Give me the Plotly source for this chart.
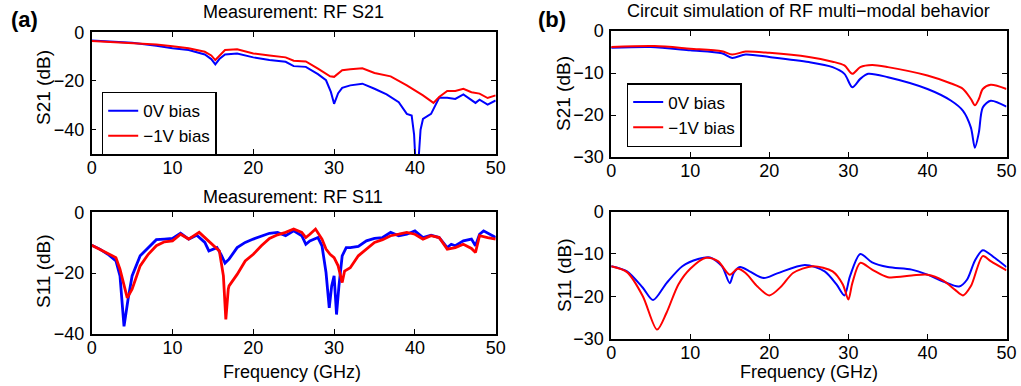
import plotly.graph_objects as go

W, H = 1021, 386

# ---------------- data ----------------
# (a) Measurement S21
meas_s21_f0 = [0, 2, 5, 8, 10, 12, 14, 14.8, 15.3, 15.8, 16.5, 18, 20, 22, 24, 25, 26.5, 28, 29, 29.6, 30, 30.5, 31, 32, 33.5, 35, 36.5, 38, 39, 39.6, 39.9, 40.1, 40.4, 40.7, 41, 42, 43, 44, 45, 46, 47, 47.5, 48, 49, 50]
meas_s21_0v = [-3.4, -3.8, -4.3, -5.5, -6.6, -7.3, -9.1, -11.0, -13.2, -11.0, -9.1, -8.7, -10.3, -11.4, -12.1, -13.9, -14.2, -17.2, -19.7, -24.5, -29.4, -25.0, -22.8, -21.8, -21.1, -23.2, -25.5, -28.7, -33.5, -34.2, -42.0, -55.0, -55.0, -40.0, -35.6, -33.5, -26.9, -26.9, -27.4, -25.5, -28.0, -29.0, -27.7, -29.7, -28.0]
meas_s21_f1 = [0, 2, 5, 8, 10, 12, 14, 14.8, 15.3, 15.8, 16.5, 18, 20, 22, 24, 25, 26.5, 28, 29.5, 30, 31, 32, 33.5, 35, 37, 39, 40, 41, 42.3, 43, 44, 45, 46, 47, 48, 49, 50]
meas_s21_m1v = [-3.6, -3.9, -4.3, -5.0, -5.7, -6.6, -8.0, -9.5, -11.4, -9.5, -7.3, -7.0, -8.7, -9.5, -10.3, -11.7, -12.0, -14.9, -18.1, -18.3, -15.6, -15.2, -14.8, -16.7, -18.1, -21.8, -23.9, -25.9, -29.0, -26.6, -24.1, -24.1, -23.2, -24.6, -25.2, -27.0, -25.9]

# (a) Measurement S11
meas_s11_f0 = [0, 1, 2, 3, 3.5, 4, 4.5, 5, 6, 7, 8, 9, 10, 11, 12, 13, 14, 14.5, 15, 15.5, 16, 16.5, 17, 18, 19, 20, 22, 23, 24, 25, 26, 26.5, 27, 28, 28.5, 29, 29.4, 29.7, 30, 30.3, 30.6, 31, 31.5, 32, 33, 34, 35, 36, 37, 38, 39, 40, 41, 42, 43, 44, 44.5, 45, 46, 47, 47.5, 48, 48.5, 49, 50]
meas_s11_0v = [-10.8, -12.1, -13.8, -16.0, -20.9, -37.5, -28.6, -20.9, -14.3, -11.6, -9.0, -8.8, -8.6, -6.9, -8.8, -7.5, -9.9, -12.7, -12.1, -11.6, -13.8, -16.7, -15.4, -11.6, -9.9, -8.8, -6.9, -6.6, -7.7, -6.1, -7.7, -10.5, -9.4, -8.3, -11.0, -19.8, -31.4, -24.2, -20.9, -33.6, -24.2, -14.3, -11.6, -11.6, -11.2, -9.4, -8.6, -8.3, -6.6, -7.7, -7.2, -6.1, -8.3, -7.5, -8.3, -11.6, -10.5, -11.0, -9.4, -8.8, -11.0, -7.2, -6.1, -6.8, -8.3]
meas_s11_f1 = [0, 1, 2, 3, 3.5, 4, 4.4, 5, 6, 7, 8, 9, 10, 11, 12, 13.3, 14, 15, 15.8, 16.3, 16.6, 16.9, 17, 18, 19, 20, 21, 22, 23, 24, 25, 26, 26.5, 27, 27.7, 28.5, 29, 29.5, 30, 30.5, 31, 31.3, 32, 33, 34, 35, 36, 37, 38, 39, 40, 41, 42, 43, 44, 45, 46, 47, 47.5, 48, 49, 50]
meas_s11_m1v = [-10.8, -12.1, -13.4, -14.9, -18.7, -24.2, -28.1, -25.3, -17.6, -13.8, -11.0, -9.7, -9.4, -7.2, -8.8, -6.6, -8.3, -11.0, -12.7, -20.9, -35.2, -25.3, -24.2, -20.4, -16.0, -13.8, -11.0, -8.6, -7.4, -6.6, -5.5, -6.6, -8.3, -7.2, -5.5, -8.8, -12.1, -13.8, -14.9, -17.6, -23.1, -19.3, -18.2, -14.3, -12.1, -9.9, -9.0, -7.7, -7.2, -6.6, -7.2, -8.8, -7.7, -8.3, -12.1, -11.6, -10.5, -11.9, -13.2, -7.7, -8.3, -8.8]

# (b) Simulation S21
sim_s21_f0 = [0, 5, 10, 14, 15.3, 17, 20, 25, 28, 29.5, 30.5, 31.5, 32.5, 35, 40, 43, 44.5, 45.5, 46, 46.5, 47, 48, 50]
sim_s21_0v = [-4.0, -3.8, -4.6, -5.3, -6.4, -5.6, -6.2, -7.4, -8.6, -10.2, -13.4, -11.4, -10.2, -11.0, -13.8, -16.6, -19.0, -23.0, -27.8, -24.2, -18.2, -16.6, -18.0]
sim_s21_f1 = [0, 5.5, 10, 14, 15.3, 17, 20, 25, 28, 29.5, 30.5, 31.5, 33, 35, 40, 43, 44.5, 45.5, 46, 46.5, 47, 48, 50]
sim_s21_m1v = [-3.8, -3.6, -4.2, -4.8, -5.6, -4.9, -5.2, -6.2, -7.3, -8.2, -10.2, -8.6, -8.1, -8.6, -10.6, -12.5, -13.8, -16.2, -17.7, -16.2, -13.8, -12.8, -13.8]

# (b) Simulation S11
sim_s11_f0 = [0, 2, 4, 5.3, 7, 9, 11, 12.5, 14, 15, 15.5, 16.3, 17.5, 19.3, 21, 24.5, 27, 28.5, 29.5, 30.2, 31.5, 33, 35, 38, 40, 42, 44, 45, 46, 47, 48.5, 50]
sim_s11_0v = [-12.9, -14.1, -18.0, -20.9, -16.9, -12.9, -11.2, -10.8, -12.9, -16.9, -14.5, -13.1, -14.1, -15.7, -14.6, -12.6, -14.1, -17.2, -19.8, -15.3, -10.0, -12.0, -13.1, -13.7, -14.9, -16.5, -17.7, -16.1, -11.6, -9.1, -10.9, -13.1]
sim_s11_f1 = [0, 2, 4, 5.8, 7, 8.5, 10, 12, 13.5, 15, 16, 17, 18.5, 20, 21.5, 23, 25.5, 28, 29.3, 30, 30.5, 31.5, 33, 35, 38, 40, 42, 43.5, 44.5, 45.5, 47, 48, 50]
sim_s11_m1v = [-12.9, -14.3, -20.0, -27.9, -23.9, -17.2, -13.5, -10.9, -11.7, -14.9, -13.5, -14.5, -17.7, -19.8, -17.7, -14.5, -12.9, -14.1, -17.2, -20.8, -16.9, -12.1, -13.7, -15.5, -15.1, -14.9, -16.3, -18.5, -19.8, -17.6, -10.5, -11.7, -13.9]

x_ticks = [0, 10, 20, 30, 40, 50]
legend_labels = ["0V bias", "\u22121V bias"]
titles = ["Measurement: RF S21", "Measurement: RF S11", "Circuit simulation of RF multi\u2212modal behavior"]

BLUE = "#0000ff"
RED = "#ff0000"
FONT = "Liberation Sans, Arial, Helvetica, sans-serif"

fig = go.Figure()

def add(x, y, color, name, xa, ya, legend=None, show=False, shape="linear", width=2):
    fig.add_trace(go.Scatter(
        x=x, y=y, mode="lines", name=name,
        line=dict(color=color, width=width, shape=shape, smoothing=0.8 if shape == "spline" else None),
        xaxis=xa, yaxis=ya, showlegend=show, legend=legend, hoverinfo="skip"))

# (a) top
add(meas_s21_f0, meas_s21_0v, BLUE, legend_labels[0], "x", "y", "legend", True)
add(meas_s21_f1, meas_s21_m1v, RED, legend_labels[1], "x", "y", "legend", True)
# (a) bottom
add(meas_s11_f0, meas_s11_0v, BLUE, legend_labels[0], "x2", "y2", width=2.8)
add(meas_s11_f1, meas_s11_m1v, RED, legend_labels[1], "x2", "y2", width=2.8)
# (b) top
add(sim_s21_f0, sim_s21_0v, BLUE, legend_labels[0], "x3", "y3", "legend2", True, shape="spline")
add(sim_s21_f1, sim_s21_m1v, RED, legend_labels[1], "x3", "y3", "legend2", True, shape="spline")
# (b) bottom
add(sim_s11_f0, sim_s11_0v, BLUE, legend_labels[0], "x4", "y4", shape="spline")
add(sim_s11_f1, sim_s11_m1v, RED, legend_labels[1], "x4", "y4", shape="spline")

def px_x(p):
    return p / W

def px_y(p):
    return 1 - p / H

axis_common = dict(showgrid=False, zeroline=False, showline=True, linecolor="black", linewidth=1.5,
                   mirror="allticks", ticks="inside", ticklen=5, tickwidth=1, tickcolor="black",
                   automargin=False,
                   tickfont=dict(family=FONT, size=18, color="black"))
x_common = dict(axis_common, ticklabelstandoff=-3)
y_common = dict(axis_common, ticklabelstandoff=2)

xa_dom = [px_x(91.7), px_x(495.7)]
xb_dom = [px_x(611.2), px_x(1006.5)]

legend_common = dict(xanchor="left", yanchor="top", bgcolor="white", bordercolor="black", borderwidth=1.5,
                     font=dict(family=FONT, size=17, color="black"), itemwidth=30, tracegroupgap=0)

layout = dict(
    width=W, height=H, autosize=False,
    margin=dict(l=0, r=0, t=0, b=0, pad=0, autoexpand=False),
    paper_bgcolor="white", plot_bgcolor="white",
    font=dict(family=FONT, size=17, color="black"),
    xaxis=dict(domain=xa_dom, range=[0, 50], tickvals=x_ticks, anchor="y", **x_common),
    yaxis=dict(domain=[px_y(154), px_y(32.3)], range=[-50, 0], tickvals=[0, -20, -40], anchor="x", **y_common),
    xaxis2=dict(domain=xa_dom, range=[0, 50], tickvals=x_ticks, anchor="y2", **x_common),
    yaxis2=dict(domain=[px_y(334), px_y(212.3)], range=[-40, 0], tickvals=[0, -20, -40], anchor="x2", **y_common),
    xaxis3=dict(domain=xb_dom, range=[0, 50], tickvals=x_ticks, anchor="y3", **x_common),
    yaxis3=dict(domain=[px_y(157), px_y(31)], range=[-30, 0], tickvals=[0, -10, -20, -30], anchor="x3", **y_common),
    xaxis4=dict(domain=xb_dom, range=[0, 50], tickvals=x_ticks, anchor="y4", **x_common),
    yaxis4=dict(domain=[px_y(338.5), px_y(211.7)], range=[-30, 0], tickvals=[0, -10, -20, -30], anchor="x4", **y_common),
    legend=dict(x=px_x(101.7), y=px_y(91.7), **legend_common),
    legend2=dict(x=px_x(626.7), y=px_y(83), **legend_common),
    showlegend=True,
)
fig.update_layout(**layout)

def ann(text, xp, yp, size=17, bold=False, angle=0):
    fig.add_annotation(text=f"<b>{text}</b>" if bold else text, x=px_x(xp), y=px_y(yp),
                       xref="paper", yref="paper", xanchor="center", yanchor="middle",
                       showarrow=False, textangle=angle,
                       font=dict(family=FONT, size=size, color="black"))

ann(titles[0], 293, 12, size=18)
ann(titles[1], 293, 197, size=18)
ann(titles[2], 808.5, 11, size=18)
ann("(a)", 24, 20, size=22, bold=True)
ann("(b)", 552, 20, size=22, bold=True)
ann("S21 (dB)", 43, 88, size=19, angle=-90)
ann("S11 (dB)", 43, 271, size=19, angle=-90)
ann("S21 (dB)", 564, 94, size=19, angle=-90)
ann("S11 (dB)", 564, 275, size=19, angle=-90)
ann("Frequency (GHz)", 292, 372, size=18)
ann("Frequency (GHz)", 808.5, 372, size=18)

fig.write_html("out.html")
